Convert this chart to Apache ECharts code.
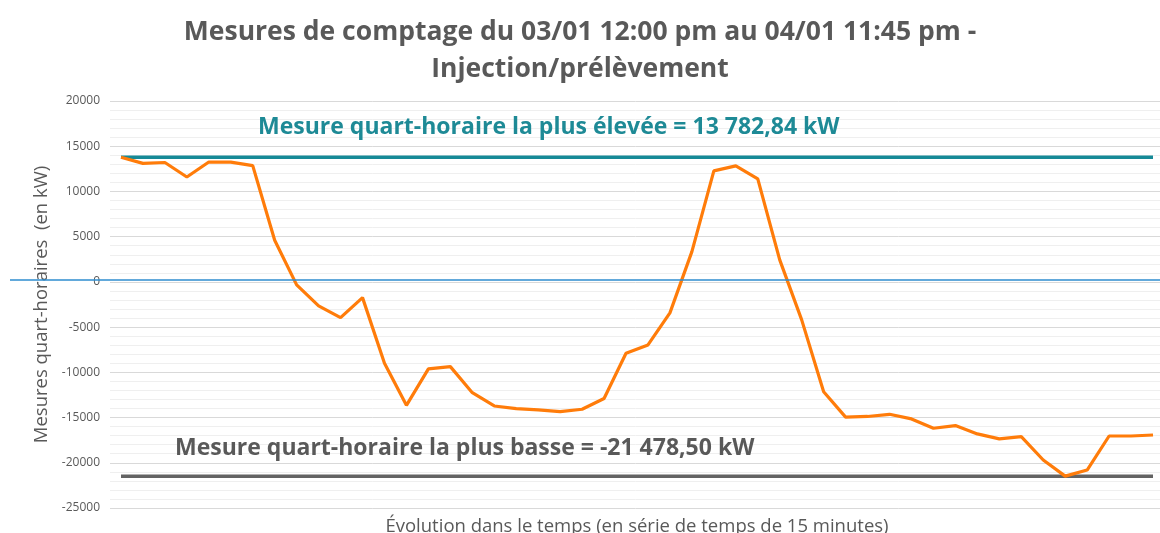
<!DOCTYPE html>
<html>
<head>
<meta charset="utf-8">
<script src="https://cdn.jsdelivr.net/npm/echarts@6/dist/echarts.min.js"></script>
<style>
html,body{margin:0;padding:0;background:#fff;}
#chart{width:1160px;height:533px;}
</style>
</head>
<body>
<div id="chart"></div>
<script>
// 48 quarter-hour samples
const categories = Array.from({length: 48}, (_, i) => String(i + 1));
const values = [
  13782.84, 13100, 13200, 11600, 13250, 13250, 12850, 4600,
  -330, -2650, -3950, -1740, -9000, -13650, -9620, -9370,
  -12250, -13720, -14010, -14160, -14350, -14080, -12900, -7890,
  -6970, -3430, 3350, 12280, 12830, 11390, 2430, -4200,
  -12140, -14950, -14880, -14640, -15150, -16180, -15890, -16810,
  -17360, -17110, -19690, -21478.5, -20800, -17040, -17040, -16930
];
const yTicks = { min: -25000, max: 20000, interval: 5000 };
const titleLines = ['Mesures de comptage du 03/01 12:00 pm au 04/01 11:45 pm -', 'Injection/prélèvement'];
const maxLabel = 'Mesure quart-horaire la plus élevée = 13 782,84 kW';
const minLabel = 'Mesure quart-horaire la plus basse = -21 478,50 kW';
const yName = 'Mesures quart-horaires  (en kW)';
const xName = 'Évolution dans le temps (en série de temps de 15 minutes)';

const maxVal = Math.max(...values);
const minVal = Math.min(...values);
const FONT = 'Open Sans';

const chart = echarts.init(document.getElementById('chart'));
chart.setOption({
  animation: false,
  backgroundColor: '#fff',
  textStyle: { fontFamily: FONT },
  title: {
    text: titleLines.join('\n'),
    left: 'center',
    top: 9,
    textStyle: { fontFamily: FONT, fontSize: 26.5, fontWeight: 'bold', color: '#595959', lineHeight: 37 }
  },
  grid: { left: 110, top: 101, width: 1054, height: 407, outerBoundsMode: 'none', containLabel: false },
  xAxis: {
    type: 'category',
    data: categories,
    boundaryGap: true,
    axisLine: { show: false },
    axisTick: { show: false },
    axisLabel: { show: false },
    splitLine: { show: false },
    name: xName,
    nameLocation: 'middle',
    nameGap: 9,
    nameTextStyle: { fontFamily: FONT, fontSize: 18.5, color: '#595959' }
  },
  yAxis: {
    type: 'value',
    min: yTicks.min,
    max: yTicks.max,
    interval: yTicks.interval,
    axisLine: { show: false },
    axisTick: { show: false },
    axisLabel: { fontFamily: FONT, fontSize: 12, color: '#595959', margin: 10, formatter: v => String(v) },
    splitLine: { show: true, lineStyle: { color: '#d9d9d9', width: 1 } },
    minorTick: { show: false, splitNumber: 5 },
    minorSplitLine: { show: true, lineStyle: { color: '#efefef', width: 1 } },
    name: yName,
    nameLocation: 'middle',
    nameGap: 58,
    nameTextStyle: { fontFamily: FONT, fontSize: 18.5, color: '#595959' }
  },
  series: [
    {
      name: 'max',
      type: 'line',
      data: categories.map(() => maxVal),
      symbol: 'none',
      lineStyle: { color: '#168a97', width: 3.5 },
      z: 2
    },
    {
      name: 'min',
      type: 'line',
      data: categories.map(() => minVal),
      symbol: 'none',
      lineStyle: { color: '#636363', width: 3.5 },
      z: 2
    },
    {
      name: 'mesures',
      type: 'line',
      data: values,
      symbol: 'none',
      lineStyle: { color: '#ff7c0a', width: 3.2 },
      z: 3
    }
  ],
  graphic: [
    {
      type: 'line',
      shape: { x1: 10, y1: 280, x2: 1160, y2: 280 },
      style: { stroke: '#2e8ccf', lineWidth: 1.5 },
      z: 10
    },
    {
      type: 'text',
      left: 258, top: 116,
      style: { text: maxLabel, fontFamily: FONT, fontSize: 23, fontWeight: 'bold', fill: '#1e8a96' },
      z: 10
    },
    {
      type: 'text',
      left: 175, top: 437,
      style: { text: minLabel, fontFamily: FONT, fontSize: 23, fontWeight: 'bold', fill: '#595959' },
      z: 10
    }
  ]
});
</script>
</body>
</html>
